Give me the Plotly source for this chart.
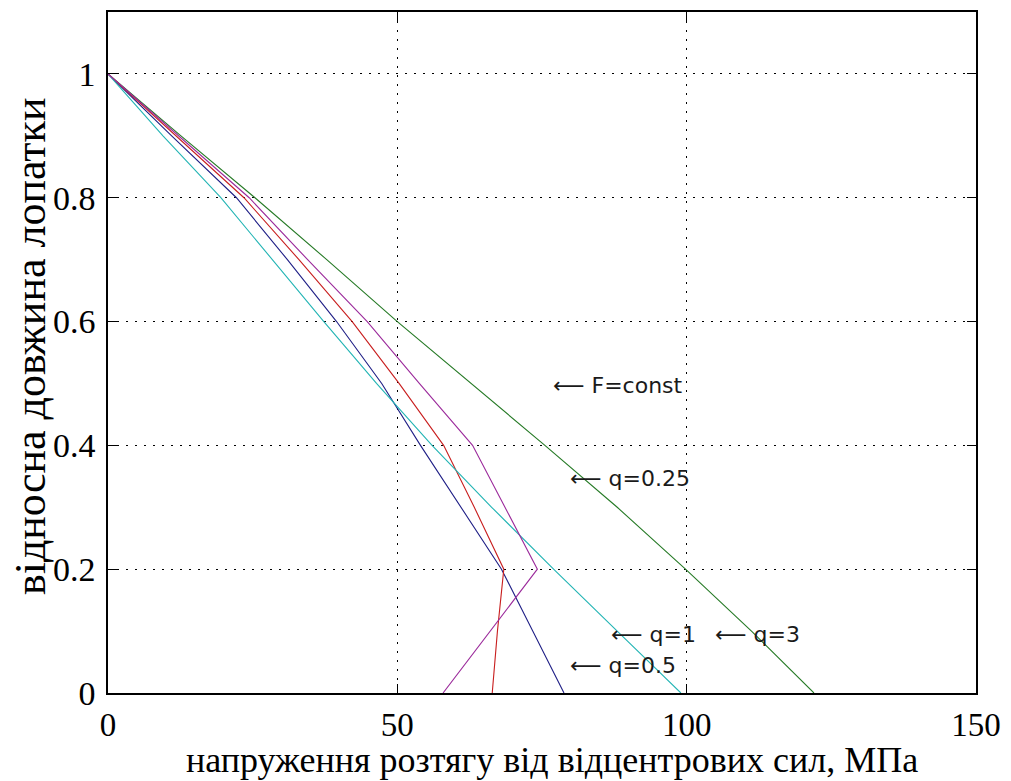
import plotly.graph_objects as go

# relative blade length (y) and stress values (x, MPa) for each curve
y_main = [1.0, 0.9, 0.8, 0.7, 0.6, 0.5, 0.4, 0.3, 0.2, 0.1, 0.0]
x_green = [0, 12.6, 25.4, 37.8, 50.0, 62.8, 75.5, 88.0, 99.8, 111.2, 122.0]
x_cyan = [0, 9.5, 19.5, 28.4, 37.3, 46.4, 56.0, 66.3, 77.0, 88.0, 99.0]
x_blue = [0, 11.0, 22.2, 31.0, 39.5, 47.3, 54.0, 61.0, 68.0, 73.4, 78.8]
x_red = [0, 11.8, 23.5, 33.0, 42.2, 50.3, 58.0, 63.3, 68.4, 67.3, 66.4]
y_mag = [1.0, 0.9, 0.8, 0.7, 0.6, 0.5, 0.4, 0.3, 0.2, 0.0]
x_mag = [0, 12.2, 24.4, 34.5, 44.8, 53.8, 63.0, 68.6, 74.2, 57.9]

x_ticks = [0, 50, 100, 150]
y_ticks = [0, 0.2, 0.4, 0.6, 0.8, 1]
y_tick_text = ["0", "0.2", "0.4", "0.6", "0.8", "1"]

labels = ["F=const", "q=0.25", "q=1", "q=3", "q=0.5"]
label_x = [76.5, 79.5, 86.5, 104.5, 79.5]
label_y = [0.497, 0.347, 0.094, 0.094, 0.045]

x_title = "напруження розтягу від відцентрових сил, МПа"
y_title = "відносна довжина лопатки"

fig = go.Figure()
series = [
    (x_blue, y_main, "#1f1f86"),
    (x_green, y_main, "#267a26"),
    (x_red, y_main, "#c81e1e"),
    (x_cyan, y_main, "#22b4b4"),
    (x_mag, y_mag, "#9b2a9b"),
]
for xs, ys, col in series:
    fig.add_trace(go.Scatter(x=xs, y=ys, mode="lines",
                             line=dict(color=col, width=1.1),
                             showlegend=False, hoverinfo="skip"))

for t, xx, yy in zip(labels, label_x, label_y):
    fig.add_annotation(x=xx, y=yy,
                       text="⟵ " + t,
                       showarrow=False, xanchor="left", yanchor="middle",
                       font=dict(family="DejaVu Sans, sans-serif",
                                 size=22, color="#1a1a1a"))

serif = "Liberation Serif, Times New Roman, serif"
fig.add_annotation(xref="paper", yref="paper", x=0.511, y=-0.0981,
                   text=x_title, showarrow=False, xanchor="center", yanchor="middle",
                   font=dict(size=36, family=serif, color="black"))
fig.add_annotation(xref="paper", yref="paper", x=-0.0898, y=0.5095,
                   text=y_title, showarrow=False, xanchor="center", yanchor="middle",
                   textangle=-90,
                   font=dict(size=44, family=serif, color="black"))

fig.update_layout(
    width=1011, height=781,
    margin=dict(l=108, r=34, t=10, b=88),
    paper_bgcolor="white", plot_bgcolor="white",
    font=dict(family=serif, color="black"),
    xaxis=dict(range=[0, 150], tickvals=x_ticks, ticktext=[str(v) for v in x_ticks],
               showline=True, linecolor="black", linewidth=1.5, mirror="ticks",
               ticks="inside", ticklen=9, tickcolor="black",
               showgrid=True, gridcolor="black", griddash="2px,7px", gridwidth=1,
               zeroline=False, tickfont=dict(size=33, family=serif),
               ticklabelstandoff=2),
    yaxis=dict(range=[0, 1.1], tickvals=y_ticks, ticktext=y_tick_text,
               showline=True, linecolor="black", linewidth=1.5, mirror="ticks",
               ticks="inside", ticklen=9, tickcolor="black",
               showgrid=True, gridcolor="black", griddash="2px,7px", gridwidth=1,
               zeroline=False, tickfont=dict(size=34, family=serif),
               ticklabelstandoff=4),
)

fig.write_html("out.html")
